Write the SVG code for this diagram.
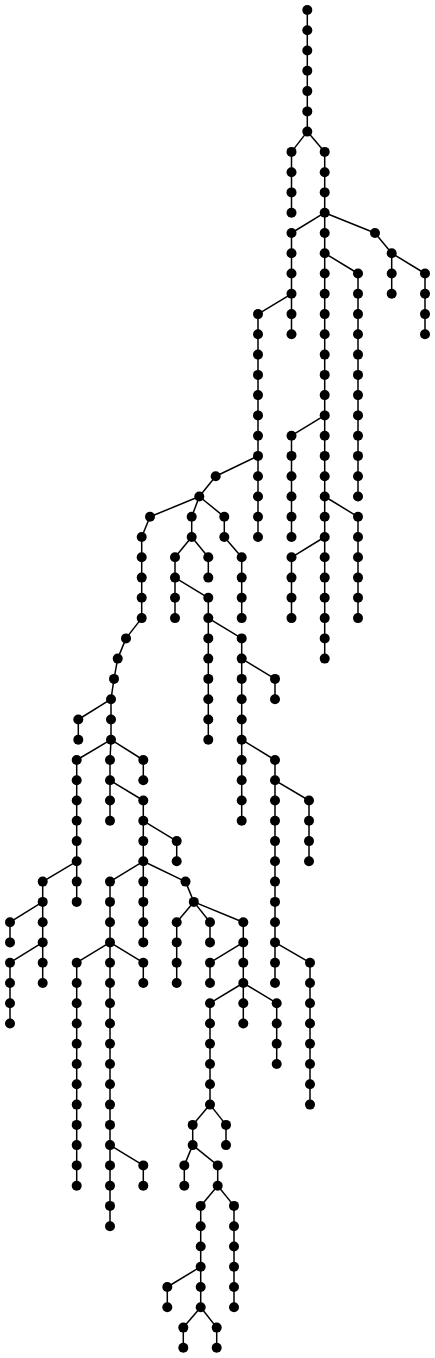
<svg xmlns="http://www.w3.org/2000/svg" width="435" height="1358" viewBox="0 0 435 1358">
<style>
.edges line{stroke:#000;stroke-width:1.5}
.node circle{fill:#000}
</style>
<rect width="435" height="1358" fill="#fff"/>
<g id="connectors" class="edges">
<line x1="307.3" y1="10" x2="307.3" y2="131.6"/>
<line x1="291.5" y1="151.9" x2="291.5" y2="212.7"/>
<line x1="324.7" y1="151.9" x2="324.7" y2="658.6"/>
<line x1="291.5" y1="233" x2="291.5" y2="334.3"/>
<line x1="258" y1="314.1" x2="258" y2="537"/>
<line x1="391.7" y1="253.2" x2="391.7" y2="293.8"/>
<line x1="425" y1="273.5" x2="425" y2="334.3"/>
<line x1="358" y1="273.5" x2="358" y2="496.5"/>
<line x1="291.5" y1="435.7" x2="291.5" y2="537"/>
<line x1="358" y1="516.8" x2="358" y2="618.1"/>
<line x1="291.5" y1="557.3" x2="291.5" y2="618.1"/>
<line x1="141.7" y1="537" x2="141.7" y2="618.1"/>
<line x1="111" y1="699.2" x2="111" y2="739.7"/>
<line x1="78.3" y1="719.5" x2="78.3" y2="739.7"/>
<line x1="76.7" y1="760" x2="76.7" y2="901.9"/>
<line x1="42.7" y1="881.6" x2="42.7" y2="983"/>
<line x1="10" y1="922.2" x2="10" y2="942.4"/>
<line x1="10" y1="962.7" x2="10" y2="1023.5"/>
<line x1="110" y1="760" x2="110" y2="820.8"/>
<line x1="143.3" y1="760" x2="143.3" y2="780.3"/>
<line x1="143.3" y1="800.5" x2="143.3" y2="942.4"/>
<line x1="176.7" y1="841.1" x2="176.7" y2="861.3"/>
<line x1="110" y1="881.6" x2="110" y2="1226.2"/>
<line x1="76.7" y1="962.7" x2="76.7" y2="1185.7"/>
<line x1="143.3" y1="962.7" x2="143.3" y2="983"/>
<line x1="143.3" y1="1165.4" x2="143.3" y2="1185.7"/>
<line x1="176.7" y1="922.2" x2="176.7" y2="983"/>
<line x1="210" y1="922.2" x2="210" y2="942.4"/>
<line x1="243.3" y1="922.2" x2="243.3" y2="1023.5"/>
<line x1="210" y1="962.7" x2="210" y2="983"/>
<line x1="210" y1="1003.2" x2="210" y2="1104.6"/>
<line x1="276.7" y1="1003.2" x2="276.7" y2="1064"/>
<line x1="192.7" y1="1124.9" x2="192.7" y2="1145.1"/>
<line x1="226" y1="1124.9" x2="226" y2="1145.1"/>
<line x1="184.3" y1="1165.4" x2="184.3" y2="1185.7"/>
<line x1="217.7" y1="1165.4" x2="217.7" y2="1185.7"/>
<line x1="200.7" y1="1205.9" x2="200.7" y2="1307.3"/>
<line x1="234" y1="1205.9" x2="234" y2="1307.3"/>
<line x1="167.3" y1="1287" x2="167.3" y2="1307.3"/>
<line x1="183.3" y1="1327.6" x2="183.3" y2="1347.8"/>
<line x1="216.7" y1="1327.6" x2="216.7" y2="1347.8"/>
<line x1="191.7" y1="516.8" x2="191.7" y2="537"/>
<line x1="175" y1="557.3" x2="175" y2="618.1"/>
<line x1="208.3" y1="557.3" x2="208.3" y2="577.6"/>
<line x1="208.3" y1="597.8" x2="208.3" y2="739.7"/>
<line x1="241.7" y1="638.4" x2="241.7" y2="820.8"/>
<line x1="275" y1="678.9" x2="275" y2="699.2"/>
<line x1="275" y1="760" x2="275" y2="983"/>
<line x1="309" y1="800.5" x2="309" y2="861.3"/>
<line x1="310" y1="962.7" x2="310" y2="1104.6"/>
<line x1="224.3" y1="516.8" x2="224.3" y2="537"/>
<line x1="241.7" y1="557.3" x2="241.7" y2="618.1"/>
<line x1="307.3" y1="131.6" x2="291.5" y2="151.9"/>
<line x1="307.3" y1="131.6" x2="324.7" y2="151.9"/>
<line x1="324.7" y1="212.7" x2="291.5" y2="233"/>
<line x1="324.7" y1="212.7" x2="375" y2="233"/>
<line x1="375" y1="233" x2="391.7" y2="253.2"/>
<line x1="391.7" y1="253.2" x2="425" y2="273.5"/>
<line x1="324.7" y1="253.2" x2="358" y2="273.5"/>
<line x1="291.5" y1="293.8" x2="258" y2="314.1"/>
<line x1="324.7" y1="415.4" x2="291.5" y2="435.7"/>
<line x1="258" y1="455.9" x2="215.7" y2="476.2"/>
<line x1="215.7" y1="476.2" x2="199.3" y2="496.5"/>
<line x1="324.7" y1="496.5" x2="358" y2="516.8"/>
<line x1="324.7" y1="537" x2="291.5" y2="557.3"/>
<line x1="199.3" y1="496.5" x2="150" y2="516.8"/>
<line x1="199.3" y1="496.5" x2="191.7" y2="516.8"/>
<line x1="199.3" y1="496.5" x2="224.3" y2="516.8"/>
<line x1="150" y1="516.8" x2="141.7" y2="537"/>
<line x1="141.7" y1="618.1" x2="126" y2="638.4"/>
<line x1="126" y1="638.4" x2="117.7" y2="658.6"/>
<line x1="117.7" y1="658.6" x2="114" y2="678.9"/>
<line x1="114" y1="678.9" x2="111" y2="699.2"/>
<line x1="111" y1="699.2" x2="78.3" y2="719.5"/>
<line x1="111" y1="739.7" x2="76.7" y2="760"/>
<line x1="111" y1="739.7" x2="110" y2="760"/>
<line x1="111" y1="739.7" x2="143.3" y2="760"/>
<line x1="76.7" y1="861.3" x2="42.7" y2="881.6"/>
<line x1="42.7" y1="901.9" x2="10" y2="922.2"/>
<line x1="42.7" y1="942.4" x2="10" y2="962.7"/>
<line x1="110" y1="780.3" x2="143.3" y2="800.5"/>
<line x1="143.3" y1="820.8" x2="176.7" y2="841.1"/>
<line x1="143.3" y1="861.3" x2="110" y2="881.6"/>
<line x1="143.3" y1="861.3" x2="185.5" y2="881.6"/>
<line x1="185.5" y1="881.6" x2="193.8" y2="901.9"/>
<line x1="110" y1="942.4" x2="76.7" y2="962.7"/>
<line x1="110" y1="942.4" x2="143.3" y2="962.7"/>
<line x1="110" y1="1145.1" x2="143.3" y2="1165.4"/>
<line x1="193.8" y1="901.9" x2="176.7" y2="922.2"/>
<line x1="193.8" y1="901.9" x2="210" y2="922.2"/>
<line x1="193.8" y1="901.9" x2="243.3" y2="922.2"/>
<line x1="243.3" y1="942.4" x2="210" y2="962.7"/>
<line x1="243.3" y1="983" x2="210" y2="1003.2"/>
<line x1="243.3" y1="983" x2="276.7" y2="1003.2"/>
<line x1="210" y1="1104.6" x2="192.7" y2="1124.9"/>
<line x1="210" y1="1104.6" x2="226" y2="1124.9"/>
<line x1="192.7" y1="1145.1" x2="184.3" y2="1165.4"/>
<line x1="192.7" y1="1145.1" x2="217.7" y2="1165.4"/>
<line x1="217.7" y1="1185.7" x2="200.7" y2="1205.9"/>
<line x1="217.7" y1="1185.7" x2="234" y2="1205.9"/>
<line x1="200.7" y1="1266.7" x2="167.3" y2="1287"/>
<line x1="200.7" y1="1307.3" x2="183.3" y2="1327.6"/>
<line x1="200.7" y1="1307.3" x2="216.7" y2="1327.6"/>
<line x1="191.7" y1="537" x2="175" y2="557.3"/>
<line x1="191.7" y1="537" x2="208.3" y2="557.3"/>
<line x1="175" y1="577.6" x2="208.3" y2="597.8"/>
<line x1="208.3" y1="618.1" x2="241.7" y2="638.4"/>
<line x1="241.7" y1="658.6" x2="275" y2="678.9"/>
<line x1="241.7" y1="739.7" x2="275" y2="760"/>
<line x1="275" y1="780.3" x2="309" y2="800.5"/>
<line x1="275" y1="942.4" x2="310" y2="962.7"/>
<line x1="224.3" y1="537" x2="241.7" y2="557.3"/>
</g>
<g id="nodes" class="node">
<g id="n1"><circle cx="307.3" cy="10" r="5"/></g>
<g id="n2"><circle cx="307.3" cy="30.3" r="5"/></g>
<g id="n3"><circle cx="307.3" cy="50.5" r="5"/></g>
<g id="n4"><circle cx="307.3" cy="70.8" r="5"/></g>
<g id="n5"><circle cx="307.3" cy="91.1" r="5"/></g>
<g id="n6"><circle cx="307.3" cy="111.4" r="5"/></g>
<g id="n7"><circle cx="307.3" cy="131.6" r="5"/></g>
<g id="n8"><circle cx="291.5" cy="151.9" r="5"/></g>
<g id="n9"><circle cx="291.5" cy="172.2" r="5"/></g>
<g id="n10"><circle cx="291.5" cy="192.4" r="5"/></g>
<g id="n11"><circle cx="291.5" cy="212.7" r="5"/></g>
<g id="n12"><circle cx="324.7" cy="151.9" r="5"/></g>
<g id="n13"><circle cx="324.7" cy="172.2" r="5"/></g>
<g id="n14"><circle cx="324.7" cy="192.4" r="5"/></g>
<g id="n15"><circle cx="324.7" cy="212.7" r="5"/></g>
<g id="n16"><circle cx="324.7" cy="233" r="5"/></g>
<g id="n17"><circle cx="324.7" cy="253.2" r="5"/></g>
<g id="n18"><circle cx="324.7" cy="273.5" r="5"/></g>
<g id="n19"><circle cx="324.7" cy="293.8" r="5"/></g>
<g id="n20"><circle cx="324.7" cy="314.1" r="5"/></g>
<g id="n21"><circle cx="324.7" cy="334.3" r="5"/></g>
<g id="n22"><circle cx="324.7" cy="354.6" r="5"/></g>
<g id="n23"><circle cx="324.7" cy="374.9" r="5"/></g>
<g id="n24"><circle cx="324.7" cy="395.1" r="5"/></g>
<g id="n25"><circle cx="324.7" cy="415.4" r="5"/></g>
<g id="n26"><circle cx="324.7" cy="435.7" r="5"/></g>
<g id="n27"><circle cx="324.7" cy="455.9" r="5"/></g>
<g id="n28"><circle cx="324.7" cy="476.2" r="5"/></g>
<g id="n29"><circle cx="324.7" cy="496.5" r="5"/></g>
<g id="n30"><circle cx="324.7" cy="516.8" r="5"/></g>
<g id="n31"><circle cx="324.7" cy="537" r="5"/></g>
<g id="n32"><circle cx="324.7" cy="557.3" r="5"/></g>
<g id="n33"><circle cx="324.7" cy="577.6" r="5"/></g>
<g id="n34"><circle cx="324.7" cy="597.8" r="5"/></g>
<g id="n35"><circle cx="324.7" cy="618.1" r="5"/></g>
<g id="n36"><circle cx="324.7" cy="638.4" r="5"/></g>
<g id="n37"><circle cx="324.7" cy="658.6" r="5"/></g>
<g id="n38"><circle cx="291.5" cy="233" r="5"/></g>
<g id="n39"><circle cx="291.5" cy="253.2" r="5"/></g>
<g id="n40"><circle cx="291.5" cy="273.5" r="5"/></g>
<g id="n41"><circle cx="291.5" cy="293.8" r="5"/></g>
<g id="n42"><circle cx="291.5" cy="314.1" r="5"/></g>
<g id="n43"><circle cx="291.5" cy="334.3" r="5"/></g>
<g id="n44"><circle cx="258" cy="314.1" r="5"/></g>
<g id="n45"><circle cx="258" cy="334.3" r="5"/></g>
<g id="n46"><circle cx="258" cy="354.6" r="5"/></g>
<g id="n47"><circle cx="258" cy="374.9" r="5"/></g>
<g id="n48"><circle cx="258" cy="395.1" r="5"/></g>
<g id="n49"><circle cx="258" cy="415.4" r="5"/></g>
<g id="n50"><circle cx="258" cy="435.7" r="5"/></g>
<g id="n51"><circle cx="258" cy="455.9" r="5"/></g>
<g id="n52"><circle cx="258" cy="476.2" r="5"/></g>
<g id="n53"><circle cx="258" cy="496.5" r="5"/></g>
<g id="n54"><circle cx="258" cy="516.8" r="5"/></g>
<g id="n55"><circle cx="258" cy="537" r="5"/></g>
<g id="n56"><circle cx="215.7" cy="476.2" r="5"/></g>
<g id="n57"><circle cx="199.3" cy="496.5" r="5"/></g>
<g id="n58"><circle cx="375" cy="233" r="5"/></g>
<g id="n59"><circle cx="391.7" cy="253.2" r="5"/></g>
<g id="n60"><circle cx="391.7" cy="273.5" r="5"/></g>
<g id="n61"><circle cx="391.7" cy="293.8" r="5"/></g>
<g id="n62"><circle cx="425" cy="273.5" r="5"/></g>
<g id="n63"><circle cx="425" cy="293.8" r="5"/></g>
<g id="n64"><circle cx="425" cy="314.1" r="5"/></g>
<g id="n65"><circle cx="425" cy="334.3" r="5"/></g>
<g id="n66"><circle cx="358" cy="273.5" r="5"/></g>
<g id="n67"><circle cx="358" cy="293.8" r="5"/></g>
<g id="n68"><circle cx="358" cy="314.1" r="5"/></g>
<g id="n69"><circle cx="358" cy="334.3" r="5"/></g>
<g id="n70"><circle cx="358" cy="354.6" r="5"/></g>
<g id="n71"><circle cx="358" cy="374.9" r="5"/></g>
<g id="n72"><circle cx="358" cy="395.1" r="5"/></g>
<g id="n73"><circle cx="358" cy="415.4" r="5"/></g>
<g id="n74"><circle cx="358" cy="435.7" r="5"/></g>
<g id="n75"><circle cx="358" cy="455.9" r="5"/></g>
<g id="n76"><circle cx="358" cy="476.2" r="5"/></g>
<g id="n77"><circle cx="358" cy="496.5" r="5"/></g>
<g id="n78"><circle cx="291.5" cy="435.7" r="5"/></g>
<g id="n79"><circle cx="291.5" cy="455.9" r="5"/></g>
<g id="n80"><circle cx="291.5" cy="476.2" r="5"/></g>
<g id="n81"><circle cx="291.5" cy="496.5" r="5"/></g>
<g id="n82"><circle cx="291.5" cy="516.8" r="5"/></g>
<g id="n83"><circle cx="291.5" cy="537" r="5"/></g>
<g id="n84"><circle cx="358" cy="516.8" r="5"/></g>
<g id="n85"><circle cx="358" cy="537" r="5"/></g>
<g id="n86"><circle cx="358" cy="557.3" r="5"/></g>
<g id="n87"><circle cx="358" cy="577.6" r="5"/></g>
<g id="n88"><circle cx="358" cy="597.8" r="5"/></g>
<g id="n89"><circle cx="358" cy="618.1" r="5"/></g>
<g id="n90"><circle cx="291.5" cy="557.3" r="5"/></g>
<g id="n91"><circle cx="291.5" cy="577.6" r="5"/></g>
<g id="n92"><circle cx="291.5" cy="597.8" r="5"/></g>
<g id="n93"><circle cx="291.5" cy="618.1" r="5"/></g>
<g id="n94"><circle cx="150" cy="516.8" r="5"/></g>
<g id="n95"><circle cx="141.7" cy="537" r="5"/></g>
<g id="n96"><circle cx="141.7" cy="557.3" r="5"/></g>
<g id="n97"><circle cx="141.7" cy="577.6" r="5"/></g>
<g id="n98"><circle cx="141.7" cy="597.8" r="5"/></g>
<g id="n99"><circle cx="141.7" cy="618.1" r="5"/></g>
<g id="n100"><circle cx="126" cy="638.4" r="5"/></g>
<g id="n101"><circle cx="117.7" cy="658.6" r="5"/></g>
<g id="n102"><circle cx="114" cy="678.9" r="5"/></g>
<g id="n103"><circle cx="111" cy="699.2" r="5"/></g>
<g id="n104"><circle cx="111" cy="719.5" r="5"/></g>
<g id="n105"><circle cx="111" cy="739.7" r="5"/></g>
<g id="n106"><circle cx="78.3" cy="719.5" r="5"/></g>
<g id="n107"><circle cx="78.3" cy="739.7" r="5"/></g>
<g id="n108"><circle cx="76.7" cy="760" r="5"/></g>
<g id="n109"><circle cx="76.7" cy="780.3" r="5"/></g>
<g id="n110"><circle cx="76.7" cy="800.5" r="5"/></g>
<g id="n111"><circle cx="76.7" cy="820.8" r="5"/></g>
<g id="n112"><circle cx="76.7" cy="841.1" r="5"/></g>
<g id="n113"><circle cx="76.7" cy="861.3" r="5"/></g>
<g id="n114"><circle cx="76.7" cy="881.6" r="5"/></g>
<g id="n115"><circle cx="76.7" cy="901.9" r="5"/></g>
<g id="n116"><circle cx="42.7" cy="881.6" r="5"/></g>
<g id="n117"><circle cx="42.7" cy="901.9" r="5"/></g>
<g id="n118"><circle cx="42.7" cy="922.2" r="5"/></g>
<g id="n119"><circle cx="42.7" cy="942.4" r="5"/></g>
<g id="n120"><circle cx="42.7" cy="962.7" r="5"/></g>
<g id="n121"><circle cx="42.7" cy="983" r="5"/></g>
<g id="n122"><circle cx="10" cy="922.2" r="5"/></g>
<g id="n123"><circle cx="10" cy="942.4" r="5"/></g>
<g id="n124"><circle cx="10" cy="962.7" r="5"/></g>
<g id="n125"><circle cx="10" cy="983" r="5"/></g>
<g id="n126"><circle cx="10" cy="1003.2" r="5"/></g>
<g id="n127"><circle cx="10" cy="1023.5" r="5"/></g>
<g id="n128"><circle cx="110" cy="760" r="5"/></g>
<g id="n129"><circle cx="110" cy="780.3" r="5"/></g>
<g id="n130"><circle cx="110" cy="800.5" r="5"/></g>
<g id="n131"><circle cx="110" cy="820.8" r="5"/></g>
<g id="n132"><circle cx="143.3" cy="760" r="5"/></g>
<g id="n133"><circle cx="143.3" cy="780.3" r="5"/></g>
<g id="n134"><circle cx="143.3" cy="800.5" r="5"/></g>
<g id="n135"><circle cx="143.3" cy="820.8" r="5"/></g>
<g id="n136"><circle cx="143.3" cy="841.1" r="5"/></g>
<g id="n137"><circle cx="143.3" cy="861.3" r="5"/></g>
<g id="n138"><circle cx="143.3" cy="881.6" r="5"/></g>
<g id="n139"><circle cx="143.3" cy="901.9" r="5"/></g>
<g id="n140"><circle cx="143.3" cy="922.2" r="5"/></g>
<g id="n141"><circle cx="143.3" cy="942.4" r="5"/></g>
<g id="n142"><circle cx="176.7" cy="841.1" r="5"/></g>
<g id="n143"><circle cx="176.7" cy="861.3" r="5"/></g>
<g id="n144"><circle cx="110" cy="881.6" r="5"/></g>
<g id="n145"><circle cx="110" cy="901.9" r="5"/></g>
<g id="n146"><circle cx="110" cy="922.2" r="5"/></g>
<g id="n147"><circle cx="110" cy="942.4" r="5"/></g>
<g id="n148"><circle cx="110" cy="962.7" r="5"/></g>
<g id="n149"><circle cx="110" cy="983" r="5"/></g>
<g id="n150"><circle cx="110" cy="1003.2" r="5"/></g>
<g id="n151"><circle cx="110" cy="1023.5" r="5"/></g>
<g id="n152"><circle cx="110" cy="1043.8" r="5"/></g>
<g id="n153"><circle cx="110" cy="1064" r="5"/></g>
<g id="n154"><circle cx="110" cy="1084.3" r="5"/></g>
<g id="n155"><circle cx="110" cy="1104.6" r="5"/></g>
<g id="n156"><circle cx="110" cy="1124.9" r="5"/></g>
<g id="n157"><circle cx="110" cy="1145.1" r="5"/></g>
<g id="n158"><circle cx="110" cy="1165.4" r="5"/></g>
<g id="n159"><circle cx="110" cy="1185.7" r="5"/></g>
<g id="n160"><circle cx="110" cy="1205.9" r="5"/></g>
<g id="n161"><circle cx="110" cy="1226.2" r="5"/></g>
<g id="n162"><circle cx="185.5" cy="881.6" r="5"/></g>
<g id="n163"><circle cx="193.8" cy="901.9" r="5"/></g>
<g id="n164"><circle cx="76.7" cy="962.7" r="5"/></g>
<g id="n165"><circle cx="76.7" cy="983" r="5"/></g>
<g id="n166"><circle cx="76.7" cy="1003.2" r="5"/></g>
<g id="n167"><circle cx="76.7" cy="1023.5" r="5"/></g>
<g id="n168"><circle cx="76.7" cy="1043.8" r="5"/></g>
<g id="n169"><circle cx="76.7" cy="1064" r="5"/></g>
<g id="n170"><circle cx="76.7" cy="1084.3" r="5"/></g>
<g id="n171"><circle cx="76.7" cy="1104.6" r="5"/></g>
<g id="n172"><circle cx="76.7" cy="1124.9" r="5"/></g>
<g id="n173"><circle cx="76.7" cy="1145.1" r="5"/></g>
<g id="n174"><circle cx="76.7" cy="1165.4" r="5"/></g>
<g id="n175"><circle cx="76.7" cy="1185.7" r="5"/></g>
<g id="n176"><circle cx="143.3" cy="962.7" r="5"/></g>
<g id="n177"><circle cx="143.3" cy="983" r="5"/></g>
<g id="n178"><circle cx="143.3" cy="1165.4" r="5"/></g>
<g id="n179"><circle cx="143.3" cy="1185.7" r="5"/></g>
<g id="n180"><circle cx="176.7" cy="922.2" r="5"/></g>
<g id="n181"><circle cx="176.7" cy="942.4" r="5"/></g>
<g id="n182"><circle cx="176.7" cy="962.7" r="5"/></g>
<g id="n183"><circle cx="176.7" cy="983" r="5"/></g>
<g id="n184"><circle cx="210" cy="922.2" r="5"/></g>
<g id="n185"><circle cx="210" cy="942.4" r="5"/></g>
<g id="n186"><circle cx="243.3" cy="922.2" r="5"/></g>
<g id="n187"><circle cx="243.3" cy="942.4" r="5"/></g>
<g id="n188"><circle cx="243.3" cy="962.7" r="5"/></g>
<g id="n189"><circle cx="243.3" cy="983" r="5"/></g>
<g id="n190"><circle cx="243.3" cy="1003.2" r="5"/></g>
<g id="n191"><circle cx="243.3" cy="1023.5" r="5"/></g>
<g id="n192"><circle cx="210" cy="962.7" r="5"/></g>
<g id="n193"><circle cx="210" cy="983" r="5"/></g>
<g id="n194"><circle cx="210" cy="1003.2" r="5"/></g>
<g id="n195"><circle cx="210" cy="1023.5" r="5"/></g>
<g id="n196"><circle cx="210" cy="1043.8" r="5"/></g>
<g id="n197"><circle cx="210" cy="1064" r="5"/></g>
<g id="n198"><circle cx="210" cy="1084.3" r="5"/></g>
<g id="n199"><circle cx="210" cy="1104.6" r="5"/></g>
<g id="n200"><circle cx="276.7" cy="1003.2" r="5"/></g>
<g id="n201"><circle cx="276.7" cy="1023.5" r="5"/></g>
<g id="n202"><circle cx="276.7" cy="1043.8" r="5"/></g>
<g id="n203"><circle cx="276.7" cy="1064" r="5"/></g>
<g id="n204"><circle cx="192.7" cy="1124.9" r="5"/></g>
<g id="n205"><circle cx="192.7" cy="1145.1" r="5"/></g>
<g id="n206"><circle cx="226" cy="1124.9" r="5"/></g>
<g id="n207"><circle cx="226" cy="1145.1" r="5"/></g>
<g id="n208"><circle cx="184.3" cy="1165.4" r="5"/></g>
<g id="n209"><circle cx="184.3" cy="1185.7" r="5"/></g>
<g id="n210"><circle cx="217.7" cy="1165.4" r="5"/></g>
<g id="n211"><circle cx="217.7" cy="1185.7" r="5"/></g>
<g id="n212"><circle cx="200.7" cy="1205.9" r="5"/></g>
<g id="n213"><circle cx="200.7" cy="1226.2" r="5"/></g>
<g id="n214"><circle cx="200.7" cy="1246.5" r="5"/></g>
<g id="n215"><circle cx="200.7" cy="1266.7" r="5"/></g>
<g id="n216"><circle cx="200.7" cy="1287" r="5"/></g>
<g id="n217"><circle cx="200.7" cy="1307.3" r="5"/></g>
<g id="n218"><circle cx="234" cy="1205.9" r="5"/></g>
<g id="n219"><circle cx="234" cy="1226.2" r="5"/></g>
<g id="n220"><circle cx="234" cy="1246.5" r="5"/></g>
<g id="n221"><circle cx="234" cy="1266.7" r="5"/></g>
<g id="n222"><circle cx="234" cy="1287" r="5"/></g>
<g id="n223"><circle cx="234" cy="1307.3" r="5"/></g>
<g id="n224"><circle cx="167.3" cy="1287" r="5"/></g>
<g id="n225"><circle cx="167.3" cy="1307.3" r="5"/></g>
<g id="n226"><circle cx="183.3" cy="1327.6" r="5"/></g>
<g id="n227"><circle cx="183.3" cy="1347.8" r="5"/></g>
<g id="n228"><circle cx="216.7" cy="1327.6" r="5"/></g>
<g id="n229"><circle cx="216.7" cy="1347.8" r="5"/></g>
<g id="n230"><circle cx="191.7" cy="516.8" r="5"/></g>
<g id="n231"><circle cx="191.7" cy="537" r="5"/></g>
<g id="n232"><circle cx="175" cy="557.3" r="5"/></g>
<g id="n233"><circle cx="175" cy="577.6" r="5"/></g>
<g id="n234"><circle cx="175" cy="597.8" r="5"/></g>
<g id="n235"><circle cx="175" cy="618.1" r="5"/></g>
<g id="n236"><circle cx="208.3" cy="557.3" r="5"/></g>
<g id="n237"><circle cx="208.3" cy="577.6" r="5"/></g>
<g id="n238"><circle cx="208.3" cy="597.8" r="5"/></g>
<g id="n239"><circle cx="208.3" cy="618.1" r="5"/></g>
<g id="n240"><circle cx="208.3" cy="638.4" r="5"/></g>
<g id="n241"><circle cx="208.3" cy="658.6" r="5"/></g>
<g id="n242"><circle cx="208.3" cy="678.9" r="5"/></g>
<g id="n243"><circle cx="208.3" cy="699.2" r="5"/></g>
<g id="n244"><circle cx="208.3" cy="719.5" r="5"/></g>
<g id="n245"><circle cx="208.3" cy="739.7" r="5"/></g>
<g id="n246"><circle cx="241.7" cy="638.4" r="5"/></g>
<g id="n247"><circle cx="241.7" cy="658.6" r="5"/></g>
<g id="n248"><circle cx="241.7" cy="678.9" r="5"/></g>
<g id="n249"><circle cx="241.7" cy="699.2" r="5"/></g>
<g id="n250"><circle cx="241.7" cy="719.5" r="5"/></g>
<g id="n251"><circle cx="241.7" cy="739.7" r="5"/></g>
<g id="n252"><circle cx="241.7" cy="760" r="5"/></g>
<g id="n253"><circle cx="241.7" cy="780.3" r="5"/></g>
<g id="n254"><circle cx="241.7" cy="800.5" r="5"/></g>
<g id="n255"><circle cx="241.7" cy="820.8" r="5"/></g>
<g id="n256"><circle cx="275" cy="678.9" r="5"/></g>
<g id="n257"><circle cx="275" cy="699.2" r="5"/></g>
<g id="n258"><circle cx="275" cy="760" r="5"/></g>
<g id="n259"><circle cx="275" cy="780.3" r="5"/></g>
<g id="n260"><circle cx="275" cy="800.5" r="5"/></g>
<g id="n261"><circle cx="275" cy="820.8" r="5"/></g>
<g id="n262"><circle cx="275" cy="841.1" r="5"/></g>
<g id="n263"><circle cx="275" cy="861.3" r="5"/></g>
<g id="n264"><circle cx="275" cy="881.6" r="5"/></g>
<g id="n265"><circle cx="275" cy="901.9" r="5"/></g>
<g id="n266"><circle cx="275" cy="922.2" r="5"/></g>
<g id="n267"><circle cx="275" cy="942.4" r="5"/></g>
<g id="n268"><circle cx="275" cy="962.7" r="5"/></g>
<g id="n269"><circle cx="275" cy="983" r="5"/></g>
<g id="n270"><circle cx="309" cy="800.5" r="5"/></g>
<g id="n271"><circle cx="309" cy="820.8" r="5"/></g>
<g id="n272"><circle cx="309" cy="841.1" r="5"/></g>
<g id="n273"><circle cx="309" cy="861.3" r="5"/></g>
<g id="n274"><circle cx="310" cy="962.7" r="5"/></g>
<g id="n275"><circle cx="310" cy="983" r="5"/></g>
<g id="n276"><circle cx="310" cy="1003.2" r="5"/></g>
<g id="n277"><circle cx="310" cy="1023.5" r="5"/></g>
<g id="n278"><circle cx="310" cy="1043.8" r="5"/></g>
<g id="n279"><circle cx="310" cy="1064" r="5"/></g>
<g id="n280"><circle cx="310" cy="1084.3" r="5"/></g>
<g id="n281"><circle cx="310" cy="1104.6" r="5"/></g>
<g id="n282"><circle cx="224.3" cy="516.8" r="5"/></g>
<g id="n283"><circle cx="224.3" cy="537" r="5"/></g>
<g id="n284"><circle cx="241.7" cy="557.3" r="5"/></g>
<g id="n285"><circle cx="241.7" cy="577.6" r="5"/></g>
<g id="n286"><circle cx="241.7" cy="597.8" r="5"/></g>
<g id="n287"><circle cx="241.7" cy="618.1" r="5"/></g>
</g>
</svg>
